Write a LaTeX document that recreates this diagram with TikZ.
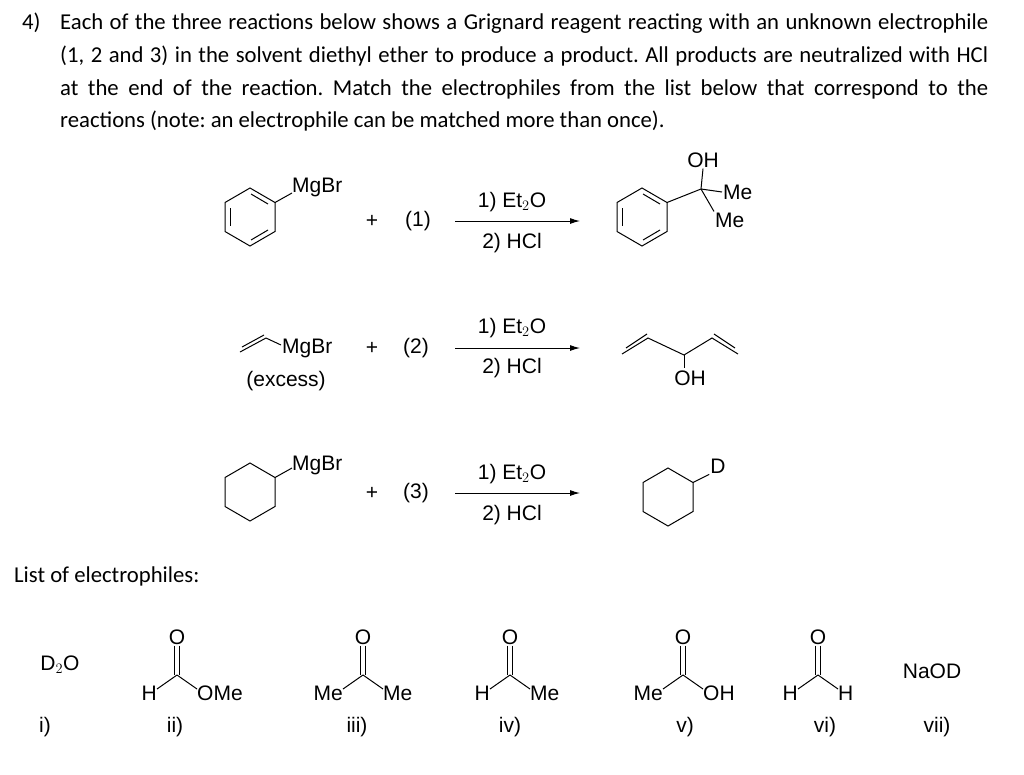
\documentclass[tikz,border=0pt]{standalone}
\usepackage{fontspec}
\setmainfont{Carlito}
\newfontfamily\chemf{Liberation Sans}
\usetikzlibrary{arrows.meta}
\frenchspacing
\tikzset{
 q/.style={font=\fontsize{22.7}{26}\selectfont,anchor=base west,inner sep=0},
 ch/.style={font=\chemf\fontsize{21}{24}\selectfont,inner sep=1pt},
 bd/.style={line width=1pt},
 rx/.style={line width=1pt,-{Latex[length=10pt,width=6pt]}}
}
\newcommand{\hexa}[3]{% center x, y, aromatic?
 \draw[bd] (#1,#2-29)--(#1+25,#2-14.5)--(#1+25,#2+14.5)--(#1,#2+29)--(#1-25,#2+14.5)--(#1-25,#2-14.5)--cycle;
 \ifnum#3=1
 \draw[bd] (#1-20,#2-9)--(#1-20,#2+9);
 \draw[bd] (#1+1,#2-23)--(#1+18,#2-13);
 \draw[bd] (#1+1,#2+23)--(#1+18,#2+13);
 \fi}
\newcommand{\carb}[5]{% x y name left right
 \node[ch] (#3o) at (#1,#2-38) {O};
 \coordinate (#3c) at (#1,#2);
 \node[ch,anchor=east] (#3l) at (#1-19,#2+18) {#4};
 \node[ch,anchor=west] (#3r) at (#1+19,#2+18) {#5};
 \draw[bd] (#3o.south)++(-2.5,0)--(#1-2.5,#2);
 \draw[bd] (#3o.south)++(2.5,0)--(#1+2.5,#2);
 \draw[bd] (#3c)--(#1-20,#2+14);
 \draw[bd] (#3c)--(#1+20,#2+14);}
\begin{document}
\begin{tikzpicture}[x=1pt,y=-1pt]
\useasboundingbox (0,0) rectangle (1024,774);
\node[q] (n4) at (22,29) {4)};
\node[q] (l1) at (60,29) {\makebox[928pt][s]{Each of the three reactions below shows a Grignard reagent reacting with an unknown electrophile}};
\node[q] (l2) at (60,62) {\makebox[928pt][s]{(1, 2 and 3) in the solvent diethyl ether to produce a product. All products are neutralized with HCl}};
\node[q] (l3) at (60,95) {\makebox[928pt][s]{at the end of the reaction. Match the electrophiles from the list below that correspond to the}};
\node[q] (l4) at (60,127) {reactions (note: an electrophile can be matched more than once).};
% row 1
\hexa{250}{217}{1}
\draw[bd] (275,202.5)--(292,193);
\node[ch,anchor=west] (mg1) at (291,187) {MgBr};
\node[ch] (p1) at (372,221) {+};
\node[ch] (e1) at (418,221) {(1)};
\draw[rx] (455,221)--(580,221);
\node[ch] (a1) at (512,202) {1) Et$_2$O};
\node[ch] (b1) at (512,243) {2) HCl};
\hexa{642}{217}{1}
\coordinate (c1) at (701,189);
\draw[bd] (667,202.5)--(c1);
\node[ch] (oh1) at (703,160) {OH};
\node[ch,anchor=west] (me1) at (722,192) {Me};
\node[ch,anchor=west] (me2) at (714,220) {Me};
\draw[bd] (c1)--(oh1.south);
\draw[bd] (c1)--(me1.west);
\draw[bd] (c1)--(me2.north west);
% row 2
\draw[bd] (240,352)--(266,338);
\draw[bd] (242,347)--(264,335);
\draw[bd] (266,338)--(281,345);
\node[ch,anchor=west] (mg2) at (281,348) {MgBr};
\node[ch] (ex) at (286,381) {(excess)};
\node[ch] (p2) at (372,348) {+};
\node[ch] (e2) at (416,348) {(2)};
\draw[rx] (455,348)--(580,348);
\node[ch] (a2) at (512,328) {1) Et$_2$O};
\node[ch] (b2) at (512,368) {2) HCl};
\coordinate (v1) at (622,354); \coordinate (v2) at (648,338);
\coordinate (v3) at (684,355); \coordinate (v4) at (712,338); \coordinate (v5) at (738,354);
\draw[bd] (v1)--(v2)--(v3)--(v4)--(v5);
\draw[bd] (626,348)--(647,334);
\draw[bd] (714,334)--(735,348);
\node[ch] (oh2) at (690,378) {OH};
\draw[bd] (v3)--(684,368);
% row 3
\hexa{250}{492}{0}
\draw[bd] (275,477.5)--(292,468);
\node[ch,anchor=west] (mg3) at (291,465) {MgBr};
\node[ch] (p3) at (372,493) {+};
\node[ch] (e3) at (416,493) {(3)};
\draw[rx] (455,493)--(580,493);
\node[ch] (a3) at (512,474) {1) Et$_2$O};
\node[ch] (b3) at (512,515) {2) HCl};
\hexa{668}{497}{0}
\node[ch] (d3) at (718,466) {D};
\draw[bd] (693,482.5)--(d3.south west);
% list
\node[q] (lst) at (14,582) {List of electrophiles:};
\node[ch] (d2o) at (60,665) {D$_2$O};
\carb{177}{675}{ii}{H}{OMe}
\carb{363}{675}{iii}{Me}{Me}
\carb{510}{675}{iv}{H}{Me}
\carb{683}{675}{v}{Me}{OH}
\carb{818}{675}{vi}{H}{H}
\node[ch] (naod) at (932,671) {NaOD};
\node[ch] (r1) at (45,727) {i)};
\node[ch] (r2) at (175,727) {ii)};
\node[ch] (r3) at (357,727) {iii)};
\node[ch] (r4) at (510,727) {iv)};
\node[ch] (r5) at (685,727) {v)};
\node[ch] (r6) at (825,727) {vi)};
\node[ch] (r7) at (937,727) {vii)};
\end{tikzpicture}
\end{document}
